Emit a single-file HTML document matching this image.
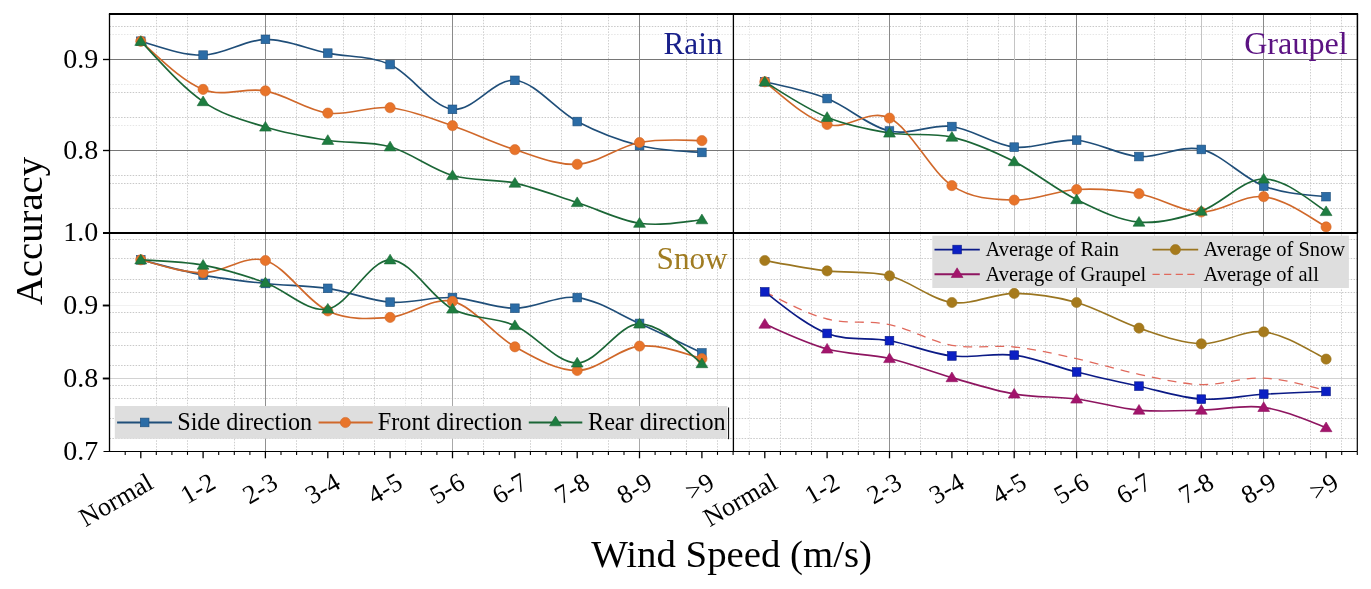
<!DOCTYPE html>
<html lang="en"><head><meta charset="utf-8"><title>Accuracy vs Wind Speed</title>
<style>html,body{margin:0;padding:0;background:#fff}body{width:1371px;height:589px;overflow:hidden}</style></head>
<body>
<svg width="1371" height="589" viewBox="0 0 1371 589" style="display:block;font-family:'Liberation Serif',serif;will-change:transform">
<rect width="1371" height="589" fill="#fff"/>
<g stroke-width="1" stroke-dasharray="1.5 1.4" fill="none"><line x1="156.5" y1="14.0" x2="156.5" y2="451.5" stroke="#cecece"/><line x1="187.5" y1="14.0" x2="187.5" y2="451.5" stroke="#cecece"/><line x1="234.5" y1="233.0" x2="234.5" y2="451.5" stroke="#cecece"/><line x1="296.5" y1="14.0" x2="296.5" y2="451.5" stroke="#cecece"/><line x1="343.5" y1="14.0" x2="343.5" y2="451.5" stroke="#cecece"/><line x1="374.5" y1="14.0" x2="374.5" y2="451.5" stroke="#cecece"/><line x1="421.5" y1="14.0" x2="421.5" y2="451.5" stroke="#cecece"/><line x1="483.5" y1="14.0" x2="483.5" y2="451.5" stroke="#cecece"/><line x1="530.5" y1="14.0" x2="530.5" y2="451.5" stroke="#cecece"/><line x1="561.5" y1="14.0" x2="561.5" y2="451.5" stroke="#cecece"/><line x1="608.5" y1="14.0" x2="608.5" y2="451.5" stroke="#cecece"/><line x1="686.5" y1="14.0" x2="686.5" y2="451.5" stroke="#cecece"/><line x1="717.5" y1="14.0" x2="717.5" y2="451.5" stroke="#cecece"/><line x1="405.5" y1="14.0" x2="405.5" y2="451.5" stroke="#e6e6e6"/><line x1="780.5" y1="14.0" x2="780.5" y2="451.5" stroke="#cecece"/><line x1="811.5" y1="14.0" x2="811.5" y2="451.5" stroke="#cecece"/><line x1="858.5" y1="14.0" x2="858.5" y2="451.5" stroke="#cecece"/><line x1="920.5" y1="14.0" x2="920.5" y2="451.5" stroke="#cecece"/><line x1="967.5" y1="14.0" x2="967.5" y2="451.5" stroke="#cecece"/><line x1="998.5" y1="14.0" x2="998.5" y2="451.5" stroke="#cecece"/><line x1="1045.5" y1="14.0" x2="1045.5" y2="451.5" stroke="#cecece"/><line x1="1107.5" y1="14.0" x2="1107.5" y2="451.5" stroke="#cecece"/><line x1="1154.5" y1="14.0" x2="1154.5" y2="451.5" stroke="#cecece"/><line x1="1185.5" y1="14.0" x2="1185.5" y2="451.5" stroke="#cecece"/><line x1="1232.5" y1="14.0" x2="1232.5" y2="451.5" stroke="#cecece"/><line x1="1310.5" y1="14.0" x2="1310.5" y2="451.5" stroke="#cecece"/><line x1="1341.5" y1="14.0" x2="1341.5" y2="451.5" stroke="#cecece"/><line x1="749.5" y1="14.0" x2="749.5" y2="451.5" stroke="#e6e6e6"/><line x1="1029.5" y1="14.0" x2="1029.5" y2="451.5" stroke="#e6e6e6"/><line x1="109.5" y1="26.5" x2="1357.4" y2="26.5" stroke="#c9c9c9"/><line x1="109.5" y1="92.5" x2="1357.4" y2="92.5" stroke="#c9c9c9"/><line x1="109.5" y1="117.5" x2="1357.4" y2="117.5" stroke="#c9c9c9"/><line x1="109.5" y1="175.5" x2="1357.4" y2="175.5" stroke="#c9c9c9"/><line x1="109.5" y1="183.5" x2="1357.4" y2="183.5" stroke="#c9c9c9"/><line x1="109.5" y1="208.5" x2="1357.4" y2="208.5" stroke="#c9c9c9"/><line x1="109.5" y1="239.5" x2="1357.4" y2="239.5" stroke="#c9c9c9"/><line x1="109.5" y1="258.5" x2="1357.4" y2="258.5" stroke="#c9c9c9"/><line x1="109.5" y1="279.5" x2="1357.4" y2="279.5" stroke="#c9c9c9"/><line x1="109.5" y1="292.5" x2="1357.4" y2="292.5" stroke="#c9c9c9"/><line x1="109.5" y1="312.5" x2="1357.4" y2="312.5" stroke="#c9c9c9"/><line x1="109.5" y1="332.5" x2="1357.4" y2="332.5" stroke="#c9c9c9"/><line x1="109.5" y1="345.5" x2="1357.4" y2="345.5" stroke="#c9c9c9"/><line x1="109.5" y1="365.5" x2="1357.4" y2="365.5" stroke="#c9c9c9"/><line x1="109.5" y1="385.5" x2="1357.4" y2="385.5" stroke="#c9c9c9"/><line x1="109.5" y1="398.5" x2="1357.4" y2="398.5" stroke="#c9c9c9"/><line x1="109.5" y1="418.5" x2="1357.4" y2="418.5" stroke="#c9c9c9"/><line x1="109.5" y1="438.5" x2="1357.4" y2="438.5" stroke="#c9c9c9"/><line x1="109.5" y1="34.5" x2="1357.4" y2="34.5" stroke="#e6e6e6"/><line x1="109.5" y1="84.5" x2="1357.4" y2="84.5" stroke="#e6e6e6"/><line x1="109.5" y1="125.5" x2="1357.4" y2="125.5" stroke="#e6e6e6"/></g>
<g stroke-width="1" fill="none"><line x1="109.5" y1="59.5" x2="1357.4" y2="59.5" stroke="#767676"/><line x1="109.5" y1="150.5" x2="1357.4" y2="150.5" stroke="#767676"/><line x1="109.5" y1="305.5" x2="1357.4" y2="305.5" stroke="#f1f1f1"/><line x1="109.5" y1="378.5" x2="1357.4" y2="378.5" stroke="#d2d2d2"/><line x1="265.5" y1="14.0" x2="265.5" y2="233.0" stroke="#8a8a8a"/><line x1="265.5" y1="233.0" x2="265.5" y2="451.5" stroke="#909090"/><line x1="452.5" y1="14.0" x2="452.5" y2="233.0" stroke="#8a8a8a"/><line x1="452.5" y1="233.0" x2="452.5" y2="451.5" stroke="#a8a8a8"/><line x1="639.5" y1="14.0" x2="639.5" y2="233.0" stroke="#8a8a8a"/><line x1="639.5" y1="233.0" x2="639.5" y2="451.5" stroke="#a8a8a8"/><line x1="889.5" y1="14.0" x2="889.5" y2="233.0" stroke="#8a8a8a"/><line x1="889.5" y1="233.0" x2="889.5" y2="451.5" stroke="#909090"/><line x1="1076.5" y1="14.0" x2="1076.5" y2="233.0" stroke="#8a8a8a"/><line x1="1076.5" y1="233.0" x2="1076.5" y2="451.5" stroke="#a8a8a8"/><line x1="1263.5" y1="14.0" x2="1263.5" y2="233.0" stroke="#8a8a8a"/><line x1="1263.5" y1="233.0" x2="1263.5" y2="451.5" stroke="#a8a8a8"/><line x1="1014.5" y1="14.0" x2="1014.5" y2="451.5" stroke="#c4c4c4"/><line x1="1201.5" y1="14.0" x2="1201.5" y2="451.5" stroke="#c4c4c4"/></g>
<path d="M140.8 41.3 C161.5 47.5 182.3 55.4 203.1 55.1 C223.9 54.8 244.7 39.7 265.4 39.4 C286.2 39.1 307.0 48.9 327.8 53.1 C348.6 57.3 369.4 55.2 390.1 64.6 C410.9 74.0 431.7 106.7 452.5 109.3 C473.3 111.9 494.1 78.3 514.9 80.3 C535.6 82.3 556.4 110.6 577.2 121.5 C598.0 132.4 618.8 140.3 639.5 145.5 C660.3 150.7 681.1 151.1 701.9 152.4" fill="none" stroke="#1F4E79" stroke-width="1.65"/><rect x="136.4" y="36.9" width="8.7" height="8.7" fill="#2B6CA6" stroke="#1F4E79" stroke-width="0.6"/><rect x="198.8" y="50.8" width="8.7" height="8.7" fill="#2B6CA6" stroke="#1F4E79" stroke-width="0.6"/><rect x="261.1" y="35.0" width="8.7" height="8.7" fill="#2B6CA6" stroke="#1F4E79" stroke-width="0.6"/><rect x="323.4" y="48.8" width="8.7" height="8.7" fill="#2B6CA6" stroke="#1F4E79" stroke-width="0.6"/><rect x="385.8" y="60.2" width="8.7" height="8.7" fill="#2B6CA6" stroke="#1F4E79" stroke-width="0.6"/><rect x="448.1" y="105.0" width="8.7" height="8.7" fill="#2B6CA6" stroke="#1F4E79" stroke-width="0.6"/><rect x="510.5" y="76.0" width="8.7" height="8.7" fill="#2B6CA6" stroke="#1F4E79" stroke-width="0.6"/><rect x="572.9" y="117.2" width="8.7" height="8.7" fill="#2B6CA6" stroke="#1F4E79" stroke-width="0.6"/><rect x="635.2" y="141.2" width="8.7" height="8.7" fill="#2B6CA6" stroke="#1F4E79" stroke-width="0.6"/><rect x="697.5" y="148.1" width="8.7" height="8.7" fill="#2B6CA6" stroke="#1F4E79" stroke-width="0.6"/>
<path d="M140.8 41.3 C161.5 59.9 182.3 81.1 203.1 89.4 C223.9 97.7 244.7 87.0 265.4 90.9 C286.2 94.9 307.0 110.3 327.8 113.1 C348.6 115.9 369.4 105.6 390.1 107.7 C410.9 109.8 431.7 118.7 452.5 125.7 C473.3 132.7 494.1 143.3 514.9 149.7 C535.6 156.1 556.4 165.5 577.2 164.3 C598.0 163.1 618.8 146.4 639.5 142.5 C660.3 138.6 681.1 140.1 701.9 140.6" fill="none" stroke="#D0682A" stroke-width="1.65"/><circle cx="140.8" cy="41.3" r="5.1" fill="#E8742A" stroke="#D0682A" stroke-width="0.6"/><circle cx="203.1" cy="89.4" r="5.1" fill="#E8742A" stroke="#D0682A" stroke-width="0.6"/><circle cx="265.4" cy="90.9" r="5.1" fill="#E8742A" stroke="#D0682A" stroke-width="0.6"/><circle cx="327.8" cy="113.1" r="5.1" fill="#E8742A" stroke="#D0682A" stroke-width="0.6"/><circle cx="390.1" cy="107.7" r="5.1" fill="#E8742A" stroke="#D0682A" stroke-width="0.6"/><circle cx="452.5" cy="125.7" r="5.1" fill="#E8742A" stroke="#D0682A" stroke-width="0.6"/><circle cx="514.9" cy="149.7" r="5.1" fill="#E8742A" stroke="#D0682A" stroke-width="0.6"/><circle cx="577.2" cy="164.3" r="5.1" fill="#E8742A" stroke="#D0682A" stroke-width="0.6"/><circle cx="639.5" cy="142.5" r="5.1" fill="#E8742A" stroke="#D0682A" stroke-width="0.6"/><circle cx="701.9" cy="140.6" r="5.1" fill="#E8742A" stroke="#D0682A" stroke-width="0.6"/>
<path d="M140.8 41.3 C161.5 63.3 182.3 87.3 203.1 101.6 C223.9 115.9 244.7 120.5 265.4 127.0 C286.2 133.4 307.0 137.0 327.8 140.3 C348.6 143.6 369.4 140.9 390.1 146.8 C410.9 152.7 431.7 169.4 452.5 175.5 C473.3 181.6 494.1 178.6 514.9 183.1 C535.6 187.6 556.4 195.8 577.2 202.5 C598.0 209.2 618.8 220.3 639.5 223.2 C660.3 226.1 681.1 222.2 701.9 219.7" fill="none" stroke="#1B6636" stroke-width="1.65"/><path d="M140.8 35.7 L146.7 45.4 L134.8 45.4 Z" fill="#1E7D40" stroke="#1B6636" stroke-width="0.6"/><path d="M203.1 96.0 L209.0 105.7 L197.2 105.7 Z" fill="#1E7D40" stroke="#1B6636" stroke-width="0.6"/><path d="M265.4 121.4 L271.3 131.1 L259.6 131.1 Z" fill="#1E7D40" stroke="#1B6636" stroke-width="0.6"/><path d="M327.8 134.7 L333.7 144.4 L321.9 144.4 Z" fill="#1E7D40" stroke="#1B6636" stroke-width="0.6"/><path d="M390.1 141.2 L396.0 150.9 L384.2 150.9 Z" fill="#1E7D40" stroke="#1B6636" stroke-width="0.6"/><path d="M452.5 169.9 L458.4 179.6 L446.6 179.6 Z" fill="#1E7D40" stroke="#1B6636" stroke-width="0.6"/><path d="M514.9 177.5 L520.8 187.2 L509.0 187.2 Z" fill="#1E7D40" stroke="#1B6636" stroke-width="0.6"/><path d="M577.2 196.9 L583.1 206.6 L571.3 206.6 Z" fill="#1E7D40" stroke="#1B6636" stroke-width="0.6"/><path d="M639.5 217.6 L645.4 227.3 L633.6 227.3 Z" fill="#1E7D40" stroke="#1B6636" stroke-width="0.6"/><path d="M701.9 214.1 L707.8 223.8 L696.0 223.8 Z" fill="#1E7D40" stroke="#1B6636" stroke-width="0.6"/>
<path d="M764.8 81.8 C785.5 86.5 806.3 90.4 827.1 98.6 C847.9 106.8 868.7 126.3 889.5 131.0 C910.3 135.7 931.1 123.8 951.9 126.5 C972.7 129.2 993.5 144.8 1014.2 147.1 C1035.0 149.4 1055.8 138.6 1076.6 140.2 C1097.4 141.8 1118.2 155.1 1139.0 156.6 C1159.8 158.1 1180.6 144.5 1201.3 149.4 C1222.1 154.3 1242.9 178.1 1263.7 186.0 C1284.5 193.9 1305.3 194.6 1326.1 196.7" fill="none" stroke="#1F4E79" stroke-width="1.65"/><rect x="760.4" y="77.5" width="8.7" height="8.7" fill="#2B6CA6" stroke="#1F4E79" stroke-width="0.6"/><rect x="822.8" y="94.2" width="8.7" height="8.7" fill="#2B6CA6" stroke="#1F4E79" stroke-width="0.6"/><rect x="885.1" y="126.7" width="8.7" height="8.7" fill="#2B6CA6" stroke="#1F4E79" stroke-width="0.6"/><rect x="947.5" y="122.2" width="8.7" height="8.7" fill="#2B6CA6" stroke="#1F4E79" stroke-width="0.6"/><rect x="1009.9" y="142.8" width="8.7" height="8.7" fill="#2B6CA6" stroke="#1F4E79" stroke-width="0.6"/><rect x="1072.3" y="135.8" width="8.7" height="8.7" fill="#2B6CA6" stroke="#1F4E79" stroke-width="0.6"/><rect x="1134.6" y="152.2" width="8.7" height="8.7" fill="#2B6CA6" stroke="#1F4E79" stroke-width="0.6"/><rect x="1197.0" y="145.1" width="8.7" height="8.7" fill="#2B6CA6" stroke="#1F4E79" stroke-width="0.6"/><rect x="1259.4" y="181.7" width="8.7" height="8.7" fill="#2B6CA6" stroke="#1F4E79" stroke-width="0.6"/><rect x="1321.7" y="192.3" width="8.7" height="8.7" fill="#2B6CA6" stroke="#1F4E79" stroke-width="0.6"/>
<path d="M764.8 81.8 C785.5 98.8 806.3 118.5 827.1 124.5 C847.9 130.6 868.7 107.9 889.5 118.1 C910.3 128.3 931.1 171.9 951.9 185.6 C972.7 199.3 993.5 199.4 1014.2 200.1 C1035.0 200.8 1055.8 190.6 1076.6 189.5 C1097.4 188.4 1118.2 189.9 1139.0 193.7 C1159.8 197.4 1180.6 211.5 1201.3 212.0 C1222.1 212.5 1242.9 194.2 1263.7 196.7 C1284.5 199.2 1305.3 214.3 1326.1 226.9" fill="none" stroke="#D0682A" stroke-width="1.65"/><circle cx="764.8" cy="81.8" r="5.1" fill="#E8742A" stroke="#D0682A" stroke-width="0.6"/><circle cx="827.1" cy="124.5" r="5.1" fill="#E8742A" stroke="#D0682A" stroke-width="0.6"/><circle cx="889.5" cy="118.1" r="5.1" fill="#E8742A" stroke="#D0682A" stroke-width="0.6"/><circle cx="951.9" cy="185.6" r="5.1" fill="#E8742A" stroke="#D0682A" stroke-width="0.6"/><circle cx="1014.2" cy="200.1" r="5.1" fill="#E8742A" stroke="#D0682A" stroke-width="0.6"/><circle cx="1076.6" cy="189.5" r="5.1" fill="#E8742A" stroke="#D0682A" stroke-width="0.6"/><circle cx="1139.0" cy="193.7" r="5.1" fill="#E8742A" stroke="#D0682A" stroke-width="0.6"/><circle cx="1201.3" cy="212.0" r="5.1" fill="#E8742A" stroke="#D0682A" stroke-width="0.6"/><circle cx="1263.7" cy="196.7" r="5.1" fill="#E8742A" stroke="#D0682A" stroke-width="0.6"/><circle cx="1326.1" cy="226.9" r="5.1" fill="#E8742A" stroke="#D0682A" stroke-width="0.6"/>
<path d="M764.8 81.8 C785.5 94.7 806.3 108.8 827.1 117.3 C847.9 125.8 868.7 129.7 889.5 133.0 C910.3 136.3 931.1 132.3 951.9 137.1 C972.7 141.9 993.5 151.2 1014.2 161.6 C1035.0 172.0 1055.8 189.5 1076.6 199.6 C1097.4 209.7 1118.2 220.2 1139.0 222.1 C1159.8 224.0 1180.6 218.3 1201.3 211.1 C1222.1 203.9 1242.9 178.9 1263.7 179.0 C1284.5 179.1 1305.3 197.1 1326.1 211.5" fill="none" stroke="#1B6636" stroke-width="1.65"/><path d="M764.8 76.2 L770.7 85.9 L758.9 85.9 Z" fill="#1E7D40" stroke="#1B6636" stroke-width="0.6"/><path d="M827.1 111.7 L833.0 121.4 L821.2 121.4 Z" fill="#1E7D40" stroke="#1B6636" stroke-width="0.6"/><path d="M889.5 127.4 L895.4 137.1 L883.6 137.1 Z" fill="#1E7D40" stroke="#1B6636" stroke-width="0.6"/><path d="M951.9 131.5 L957.8 141.2 L946.0 141.2 Z" fill="#1E7D40" stroke="#1B6636" stroke-width="0.6"/><path d="M1014.2 156.0 L1020.1 165.7 L1008.3 165.7 Z" fill="#1E7D40" stroke="#1B6636" stroke-width="0.6"/><path d="M1076.6 194.0 L1082.5 203.7 L1070.7 203.7 Z" fill="#1E7D40" stroke="#1B6636" stroke-width="0.6"/><path d="M1139.0 216.5 L1144.9 226.2 L1133.1 226.2 Z" fill="#1E7D40" stroke="#1B6636" stroke-width="0.6"/><path d="M1201.3 205.5 L1207.2 215.2 L1195.4 215.2 Z" fill="#1E7D40" stroke="#1B6636" stroke-width="0.6"/><path d="M1263.7 173.4 L1269.6 183.1 L1257.8 183.1 Z" fill="#1E7D40" stroke="#1B6636" stroke-width="0.6"/><path d="M1326.1 205.9 L1332.0 215.6 L1320.2 215.6 Z" fill="#1E7D40" stroke="#1B6636" stroke-width="0.6"/>
<path d="M140.8 259.8 C161.5 265.3 182.3 271.2 203.1 275.1 C223.9 279.1 244.7 281.3 265.4 283.5 C286.2 285.7 307.0 285.3 327.8 288.4 C348.6 291.5 369.4 300.7 390.1 302.2 C410.9 303.7 431.7 296.6 452.5 297.6 C473.3 298.6 494.1 308.3 514.9 308.3 C535.6 308.3 556.4 295.1 577.2 297.6 C598.0 300.1 618.8 314.3 639.5 323.5 C660.3 332.7 681.1 343.0 701.9 353.0" fill="none" stroke="#1F4E79" stroke-width="1.65"/><rect x="136.4" y="255.5" width="8.7" height="8.7" fill="#2B6CA6" stroke="#1F4E79" stroke-width="0.6"/><rect x="198.8" y="270.8" width="8.7" height="8.7" fill="#2B6CA6" stroke="#1F4E79" stroke-width="0.6"/><rect x="261.1" y="279.1" width="8.7" height="8.7" fill="#2B6CA6" stroke="#1F4E79" stroke-width="0.6"/><rect x="323.4" y="284.0" width="8.7" height="8.7" fill="#2B6CA6" stroke="#1F4E79" stroke-width="0.6"/><rect x="385.8" y="297.8" width="8.7" height="8.7" fill="#2B6CA6" stroke="#1F4E79" stroke-width="0.6"/><rect x="448.1" y="293.2" width="8.7" height="8.7" fill="#2B6CA6" stroke="#1F4E79" stroke-width="0.6"/><rect x="510.5" y="303.9" width="8.7" height="8.7" fill="#2B6CA6" stroke="#1F4E79" stroke-width="0.6"/><rect x="572.9" y="293.2" width="8.7" height="8.7" fill="#2B6CA6" stroke="#1F4E79" stroke-width="0.6"/><rect x="635.2" y="319.1" width="8.7" height="8.7" fill="#2B6CA6" stroke="#1F4E79" stroke-width="0.6"/><rect x="697.5" y="348.6" width="8.7" height="8.7" fill="#2B6CA6" stroke="#1F4E79" stroke-width="0.6"/>
<path d="M140.8 259.8 C161.5 265.5 182.3 272.7 203.1 272.8 C223.9 272.9 244.7 254.2 265.4 260.5 C286.2 266.9 307.0 301.4 327.8 310.9 C348.6 320.4 369.4 319.0 390.1 317.4 C410.9 315.8 431.7 296.5 452.5 301.4 C473.3 306.3 494.1 335.3 514.9 346.8 C535.6 358.3 556.4 370.6 577.2 370.5 C598.0 370.4 618.8 348.1 639.5 346.1 C660.3 344.1 681.1 352.4 701.9 358.7" fill="none" stroke="#D0682A" stroke-width="1.65"/><circle cx="140.8" cy="259.8" r="5.1" fill="#E8742A" stroke="#D0682A" stroke-width="0.6"/><circle cx="203.1" cy="272.8" r="5.1" fill="#E8742A" stroke="#D0682A" stroke-width="0.6"/><circle cx="265.4" cy="260.5" r="5.1" fill="#E8742A" stroke="#D0682A" stroke-width="0.6"/><circle cx="327.8" cy="310.9" r="5.1" fill="#E8742A" stroke="#D0682A" stroke-width="0.6"/><circle cx="390.1" cy="317.4" r="5.1" fill="#E8742A" stroke="#D0682A" stroke-width="0.6"/><circle cx="452.5" cy="301.4" r="5.1" fill="#E8742A" stroke="#D0682A" stroke-width="0.6"/><circle cx="514.9" cy="346.8" r="5.1" fill="#E8742A" stroke="#D0682A" stroke-width="0.6"/><circle cx="577.2" cy="370.5" r="5.1" fill="#E8742A" stroke="#D0682A" stroke-width="0.6"/><circle cx="639.5" cy="346.1" r="5.1" fill="#E8742A" stroke="#D0682A" stroke-width="0.6"/><circle cx="701.9" cy="358.7" r="5.1" fill="#E8742A" stroke="#D0682A" stroke-width="0.6"/>
<path d="M140.8 259.8 C161.5 260.9 182.3 261.3 203.1 265.1 C223.9 268.9 244.7 275.4 265.4 282.7 C286.2 290.0 307.0 312.8 327.8 309.0 C348.6 305.2 369.4 259.8 390.1 259.8 C410.9 259.8 431.7 298.1 452.5 309.0 C473.3 319.9 494.1 316.5 514.9 325.5 C535.6 334.5 556.4 363.2 577.2 362.9 C598.0 362.6 618.8 323.8 639.5 323.9 C660.3 324.0 681.1 346.0 701.9 363.6" fill="none" stroke="#1B6636" stroke-width="1.65"/><path d="M140.8 254.2 L146.7 263.9 L134.8 263.9 Z" fill="#1E7D40" stroke="#1B6636" stroke-width="0.6"/><path d="M203.1 259.5 L209.0 269.2 L197.2 269.2 Z" fill="#1E7D40" stroke="#1B6636" stroke-width="0.6"/><path d="M265.4 277.1 L271.3 286.8 L259.6 286.8 Z" fill="#1E7D40" stroke="#1B6636" stroke-width="0.6"/><path d="M327.8 303.4 L333.7 313.1 L321.9 313.1 Z" fill="#1E7D40" stroke="#1B6636" stroke-width="0.6"/><path d="M390.1 254.2 L396.0 263.9 L384.2 263.9 Z" fill="#1E7D40" stroke="#1B6636" stroke-width="0.6"/><path d="M452.5 303.4 L458.4 313.1 L446.6 313.1 Z" fill="#1E7D40" stroke="#1B6636" stroke-width="0.6"/><path d="M514.9 319.9 L520.8 329.6 L509.0 329.6 Z" fill="#1E7D40" stroke="#1B6636" stroke-width="0.6"/><path d="M577.2 357.3 L583.1 367.0 L571.3 367.0 Z" fill="#1E7D40" stroke="#1B6636" stroke-width="0.6"/><path d="M639.5 318.3 L645.4 328.0 L633.6 328.0 Z" fill="#1E7D40" stroke="#1B6636" stroke-width="0.6"/><path d="M701.9 358.0 L707.8 367.7 L696.0 367.7 Z" fill="#1E7D40" stroke="#1B6636" stroke-width="0.6"/>
<path d="M764.8 291.9 C785.5 302.1 806.3 313.6 827.1 319.0 C847.9 324.4 868.7 320.2 889.5 324.6 C910.3 329.0 931.1 341.6 951.9 345.3 C972.7 349.0 993.5 344.8 1014.2 347.0 C1035.0 349.2 1055.8 354.1 1076.6 358.7 C1097.4 363.2 1118.2 370.0 1139.0 374.3 C1159.8 378.6 1180.6 384.0 1201.3 384.6 C1222.1 385.2 1242.9 377.1 1263.7 378.1 C1284.5 379.1 1305.3 385.3 1326.1 390.4" fill="none" stroke="#E0695C" stroke-width="1.3" stroke-dasharray="9 7"/>
<path d="M764.8 260.5 C785.5 264.3 806.3 268.3 827.1 270.9 C847.9 273.4 868.7 270.5 889.5 275.8 C910.3 281.1 931.1 299.6 951.9 302.5 C972.7 305.4 993.5 293.4 1014.2 293.4 C1035.0 293.4 1055.8 296.7 1076.6 302.5 C1097.4 308.3 1118.2 321.2 1139.0 328.1 C1159.8 335.0 1180.6 343.2 1201.3 343.8 C1222.1 344.4 1242.9 329.3 1263.7 331.9 C1284.5 334.4 1305.3 347.9 1326.1 359.1" fill="none" stroke="#9A7520" stroke-width="1.65"/><circle cx="764.8" cy="260.5" r="5.1" fill="#A67A1C" stroke="#9A7520" stroke-width="0.6"/><circle cx="827.1" cy="270.9" r="5.1" fill="#A67A1C" stroke="#9A7520" stroke-width="0.6"/><circle cx="889.5" cy="275.8" r="5.1" fill="#A67A1C" stroke="#9A7520" stroke-width="0.6"/><circle cx="951.9" cy="302.5" r="5.1" fill="#A67A1C" stroke="#9A7520" stroke-width="0.6"/><circle cx="1014.2" cy="293.4" r="5.1" fill="#A67A1C" stroke="#9A7520" stroke-width="0.6"/><circle cx="1076.6" cy="302.5" r="5.1" fill="#A67A1C" stroke="#9A7520" stroke-width="0.6"/><circle cx="1139.0" cy="328.1" r="5.1" fill="#A67A1C" stroke="#9A7520" stroke-width="0.6"/><circle cx="1201.3" cy="343.8" r="5.1" fill="#A67A1C" stroke="#9A7520" stroke-width="0.6"/><circle cx="1263.7" cy="331.9" r="5.1" fill="#A67A1C" stroke="#9A7520" stroke-width="0.6"/><circle cx="1326.1" cy="359.1" r="5.1" fill="#A67A1C" stroke="#9A7520" stroke-width="0.6"/>
<path d="M764.8 291.9 C785.5 307.7 806.3 325.4 827.1 333.5 C847.9 341.6 868.7 336.9 889.5 340.7 C910.3 344.4 931.1 353.6 951.9 356.0 C972.7 358.4 993.5 352.5 1014.2 355.2 C1035.0 357.9 1055.8 366.8 1076.6 372.0 C1097.4 377.2 1118.2 381.7 1139.0 386.2 C1159.8 390.7 1180.6 397.8 1201.3 399.1 C1222.1 400.4 1242.9 395.5 1263.7 394.2 C1284.5 392.9 1305.3 392.3 1326.1 391.5" fill="none" stroke="#0B1A86" stroke-width="1.65"/><rect x="760.4" y="287.5" width="8.7" height="8.7" fill="#0B1FC4" stroke="#0B1A86" stroke-width="0.6"/><rect x="822.8" y="329.1" width="8.7" height="8.7" fill="#0B1FC4" stroke="#0B1A86" stroke-width="0.6"/><rect x="885.1" y="336.3" width="8.7" height="8.7" fill="#0B1FC4" stroke="#0B1A86" stroke-width="0.6"/><rect x="947.5" y="351.6" width="8.7" height="8.7" fill="#0B1FC4" stroke="#0B1A86" stroke-width="0.6"/><rect x="1009.9" y="350.8" width="8.7" height="8.7" fill="#0B1FC4" stroke="#0B1A86" stroke-width="0.6"/><rect x="1072.3" y="367.6" width="8.7" height="8.7" fill="#0B1FC4" stroke="#0B1A86" stroke-width="0.6"/><rect x="1134.6" y="381.8" width="8.7" height="8.7" fill="#0B1FC4" stroke="#0B1A86" stroke-width="0.6"/><rect x="1197.0" y="394.8" width="8.7" height="8.7" fill="#0B1FC4" stroke="#0B1A86" stroke-width="0.6"/><rect x="1259.4" y="389.8" width="8.7" height="8.7" fill="#0B1FC4" stroke="#0B1A86" stroke-width="0.6"/><rect x="1321.7" y="387.1" width="8.7" height="8.7" fill="#0B1FC4" stroke="#0B1A86" stroke-width="0.6"/>
<path d="M764.8 324.1 C785.5 333.3 806.3 343.3 827.1 349.0 C847.9 354.7 868.7 353.7 889.5 358.5 C910.3 363.3 931.1 371.7 951.9 377.6 C972.7 383.5 993.5 390.4 1014.2 394.0 C1035.0 397.6 1055.8 396.3 1076.6 399.0 C1097.4 401.7 1118.2 408.2 1139.0 410.1 C1159.8 412.0 1180.6 410.6 1201.3 410.1 C1222.1 409.7 1242.9 404.5 1263.7 407.4 C1284.5 410.3 1305.3 419.6 1326.1 427.6" fill="none" stroke="#8E1560" stroke-width="1.65"/><path d="M764.8 318.5 L770.7 328.2 L758.9 328.2 Z" fill="#A3146C" stroke="#8E1560" stroke-width="0.6"/><path d="M827.1 343.4 L833.0 353.1 L821.2 353.1 Z" fill="#A3146C" stroke="#8E1560" stroke-width="0.6"/><path d="M889.5 352.9 L895.4 362.6 L883.6 362.6 Z" fill="#A3146C" stroke="#8E1560" stroke-width="0.6"/><path d="M951.9 372.0 L957.8 381.7 L946.0 381.7 Z" fill="#A3146C" stroke="#8E1560" stroke-width="0.6"/><path d="M1014.2 388.4 L1020.1 398.1 L1008.3 398.1 Z" fill="#A3146C" stroke="#8E1560" stroke-width="0.6"/><path d="M1076.6 393.4 L1082.5 403.1 L1070.7 403.1 Z" fill="#A3146C" stroke="#8E1560" stroke-width="0.6"/><path d="M1139.0 404.5 L1144.9 414.2 L1133.1 414.2 Z" fill="#A3146C" stroke="#8E1560" stroke-width="0.6"/><path d="M1201.3 404.5 L1207.2 414.2 L1195.4 414.2 Z" fill="#A3146C" stroke="#8E1560" stroke-width="0.6"/><path d="M1263.7 401.8 L1269.6 411.5 L1257.8 411.5 Z" fill="#A3146C" stroke="#8E1560" stroke-width="0.6"/><path d="M1326.1 422.0 L1332.0 431.7 L1320.2 431.7 Z" fill="#A3146C" stroke="#8E1560" stroke-width="0.6"/>
<rect x="114.8" y="406" width="612.6" height="32.7" fill="#dedede"/>
<line x1="728.6" y1="407.5" x2="728.6" y2="439.2" stroke="#000" stroke-width="1"/>
<line x1="117.1" y1="422.5" x2="172.0" y2="422.5" stroke="#1F4E79" stroke-width="1.9"/><rect x="140.3" y="418.1" width="8.7" height="8.7" fill="#2B6CA6" stroke="#1F4E79" stroke-width="0.6"/>
<line x1="318.6" y1="422.5" x2="372.7" y2="422.5" stroke="#D0682A" stroke-width="1.9"/><circle cx="345.4" cy="422.5" r="5.1" fill="#E8742A" stroke="#D0682A" stroke-width="0.6"/>
<line x1="528.8" y1="422.5" x2="582.3" y2="422.5" stroke="#1B6636" stroke-width="1.9"/><path d="M555.5 416.1 L561.4 425.8 L549.6 425.8 Z" fill="#1E7D40" stroke="#1B6636" stroke-width="0.6"/>
<g font-size="24.2px" fill="#000"><text x="177.2" y="430">Side direction</text><text x="377.8" y="430">Front direction</text><text x="588" y="430">Rear direction</text></g>
<rect x="932.3" y="235.7" width="416.6" height="52.3" fill="#dedede"/>
<line x1="934.5" y1="249.6" x2="979.8" y2="249.6" stroke="#0B1A86" stroke-width="1.9"/><rect x="952.8" y="245.2" width="8.7" height="8.7" fill="#0B1FC4" stroke="#0B1A86" stroke-width="0.6"/>
<line x1="934.5" y1="274.2" x2="979.8" y2="274.2" stroke="#8E1560" stroke-width="1.9"/><path d="M957.1 267.8 L963.0 277.5 L951.2 277.5 Z" fill="#A3146C" stroke="#8E1560" stroke-width="0.6"/>
<line x1="1152.5" y1="249.6" x2="1198.2" y2="249.6" stroke="#9A7520" stroke-width="1.9"/><circle cx="1175.4" cy="249.6" r="5.1" fill="#A67A1C" stroke="#9A7520" stroke-width="0.6"/>
<line x1="1152.5" y1="274.3" x2="1196" y2="274.3" stroke="#E0695C" stroke-width="1.2" stroke-dasharray="7.2 4.4"/>
<g font-size="20.45px" fill="#000"><text x="985.5" y="256.3">Average of Rain</text><text x="985.5" y="280.6">Average of Graupel</text><text x="1203.5" y="256.3">Average of Snow</text><text x="1203.5" y="280.6">Average of all</text></g>
<g stroke="#000" fill="none">
<line x1="108.9" y1="14.1" x2="1358.1" y2="14.1" stroke-width="2"/>
<line x1="109.5" y1="14.0" x2="109.5" y2="451.5" stroke-width="1.3"/>
<line x1="1357.4" y1="14.0" x2="1357.4" y2="233.0" stroke-width="1.5"/>
<line x1="1357.3" y1="233.0" x2="1357.3" y2="451.5" stroke-width="1.2"/>
<line x1="733.4" y1="14.0" x2="733.4" y2="451.5" stroke-width="1.3"/>
<line x1="103.0" y1="233.0" x2="1357.4" y2="233.0" stroke-width="2"/>
<line x1="103.5" y1="451.5" x2="1357.4" y2="451.5" stroke-width="1.1"/>
<line x1="103.0" y1="59.5" x2="109.5" y2="59.5" stroke-width="1.35"/>
<line x1="103.0" y1="150.5" x2="109.5" y2="150.5" stroke-width="1.35"/>
<line x1="102.8" y1="305.5" x2="109.5" y2="305.5" stroke-width="1.9"/>
<line x1="102.8" y1="378.5" x2="109.5" y2="378.5" stroke-width="1.9"/>
<line x1="125.2" y1="451.5" x2="125.2" y2="454.9" stroke-width="1.1"/>
<line x1="140.8" y1="451.5" x2="140.8" y2="458.3" stroke-width="1.3"/>
<line x1="156.3" y1="451.5" x2="156.3" y2="454.9" stroke-width="1.1"/>
<line x1="171.9" y1="451.5" x2="171.9" y2="454.9" stroke-width="1.1"/>
<line x1="187.5" y1="451.5" x2="187.5" y2="454.9" stroke-width="1.1"/>
<line x1="203.1" y1="451.5" x2="203.1" y2="458.3" stroke-width="1.3"/>
<line x1="218.7" y1="451.5" x2="218.7" y2="454.9" stroke-width="1.1"/>
<line x1="234.3" y1="451.5" x2="234.3" y2="454.9" stroke-width="1.1"/>
<line x1="249.9" y1="451.5" x2="249.9" y2="454.9" stroke-width="1.1"/>
<line x1="265.4" y1="451.5" x2="265.4" y2="458.3" stroke-width="1.3"/>
<line x1="281.0" y1="451.5" x2="281.0" y2="454.9" stroke-width="1.1"/>
<line x1="296.6" y1="451.5" x2="296.6" y2="454.9" stroke-width="1.1"/>
<line x1="312.2" y1="451.5" x2="312.2" y2="454.9" stroke-width="1.1"/>
<line x1="327.8" y1="451.5" x2="327.8" y2="458.3" stroke-width="1.3"/>
<line x1="343.4" y1="451.5" x2="343.4" y2="454.9" stroke-width="1.1"/>
<line x1="359.0" y1="451.5" x2="359.0" y2="454.9" stroke-width="1.1"/>
<line x1="374.6" y1="451.5" x2="374.6" y2="454.9" stroke-width="1.1"/>
<line x1="390.1" y1="451.5" x2="390.1" y2="458.3" stroke-width="1.3"/>
<line x1="405.7" y1="451.5" x2="405.7" y2="454.9" stroke-width="1.1"/>
<line x1="421.3" y1="451.5" x2="421.3" y2="454.9" stroke-width="1.1"/>
<line x1="436.9" y1="451.5" x2="436.9" y2="454.9" stroke-width="1.1"/>
<line x1="452.5" y1="451.5" x2="452.5" y2="458.3" stroke-width="1.3"/>
<line x1="468.1" y1="451.5" x2="468.1" y2="454.9" stroke-width="1.1"/>
<line x1="483.7" y1="451.5" x2="483.7" y2="454.9" stroke-width="1.1"/>
<line x1="499.3" y1="451.5" x2="499.3" y2="454.9" stroke-width="1.1"/>
<line x1="514.9" y1="451.5" x2="514.9" y2="458.3" stroke-width="1.3"/>
<line x1="530.4" y1="451.5" x2="530.4" y2="454.9" stroke-width="1.1"/>
<line x1="546.0" y1="451.5" x2="546.0" y2="454.9" stroke-width="1.1"/>
<line x1="561.6" y1="451.5" x2="561.6" y2="454.9" stroke-width="1.1"/>
<line x1="577.2" y1="451.5" x2="577.2" y2="458.3" stroke-width="1.3"/>
<line x1="592.8" y1="451.5" x2="592.8" y2="454.9" stroke-width="1.1"/>
<line x1="608.4" y1="451.5" x2="608.4" y2="454.9" stroke-width="1.1"/>
<line x1="624.0" y1="451.5" x2="624.0" y2="454.9" stroke-width="1.1"/>
<line x1="639.5" y1="451.5" x2="639.5" y2="458.3" stroke-width="1.3"/>
<line x1="655.1" y1="451.5" x2="655.1" y2="454.9" stroke-width="1.1"/>
<line x1="670.7" y1="451.5" x2="670.7" y2="454.9" stroke-width="1.1"/>
<line x1="686.3" y1="451.5" x2="686.3" y2="454.9" stroke-width="1.1"/>
<line x1="701.9" y1="451.5" x2="701.9" y2="458.3" stroke-width="1.3"/>
<line x1="717.5" y1="451.5" x2="717.5" y2="454.9" stroke-width="1.1"/>
<line x1="733.1" y1="451.5" x2="733.1" y2="454.9" stroke-width="1.1"/>
<line x1="749.2" y1="451.5" x2="749.2" y2="454.9" stroke-width="1.1"/>
<line x1="764.8" y1="451.5" x2="764.8" y2="458.3" stroke-width="1.3"/>
<line x1="780.4" y1="451.5" x2="780.4" y2="454.9" stroke-width="1.1"/>
<line x1="795.9" y1="451.5" x2="795.9" y2="454.9" stroke-width="1.1"/>
<line x1="811.5" y1="451.5" x2="811.5" y2="454.9" stroke-width="1.1"/>
<line x1="827.1" y1="451.5" x2="827.1" y2="458.3" stroke-width="1.3"/>
<line x1="842.7" y1="451.5" x2="842.7" y2="454.9" stroke-width="1.1"/>
<line x1="858.3" y1="451.5" x2="858.3" y2="454.9" stroke-width="1.1"/>
<line x1="873.9" y1="451.5" x2="873.9" y2="454.9" stroke-width="1.1"/>
<line x1="889.5" y1="451.5" x2="889.5" y2="458.3" stroke-width="1.3"/>
<line x1="905.1" y1="451.5" x2="905.1" y2="454.9" stroke-width="1.1"/>
<line x1="920.7" y1="451.5" x2="920.7" y2="454.9" stroke-width="1.1"/>
<line x1="936.3" y1="451.5" x2="936.3" y2="454.9" stroke-width="1.1"/>
<line x1="951.9" y1="451.5" x2="951.9" y2="458.3" stroke-width="1.3"/>
<line x1="967.5" y1="451.5" x2="967.5" y2="454.9" stroke-width="1.1"/>
<line x1="983.1" y1="451.5" x2="983.1" y2="454.9" stroke-width="1.1"/>
<line x1="998.6" y1="451.5" x2="998.6" y2="454.9" stroke-width="1.1"/>
<line x1="1014.2" y1="451.5" x2="1014.2" y2="458.3" stroke-width="1.3"/>
<line x1="1029.8" y1="451.5" x2="1029.8" y2="454.9" stroke-width="1.1"/>
<line x1="1045.4" y1="451.5" x2="1045.4" y2="454.9" stroke-width="1.1"/>
<line x1="1061.0" y1="451.5" x2="1061.0" y2="454.9" stroke-width="1.1"/>
<line x1="1076.6" y1="451.5" x2="1076.6" y2="458.3" stroke-width="1.3"/>
<line x1="1092.2" y1="451.5" x2="1092.2" y2="454.9" stroke-width="1.1"/>
<line x1="1107.8" y1="451.5" x2="1107.8" y2="454.9" stroke-width="1.1"/>
<line x1="1123.4" y1="451.5" x2="1123.4" y2="454.9" stroke-width="1.1"/>
<line x1="1139.0" y1="451.5" x2="1139.0" y2="458.3" stroke-width="1.3"/>
<line x1="1154.6" y1="451.5" x2="1154.6" y2="454.9" stroke-width="1.1"/>
<line x1="1170.2" y1="451.5" x2="1170.2" y2="454.9" stroke-width="1.1"/>
<line x1="1185.8" y1="451.5" x2="1185.8" y2="454.9" stroke-width="1.1"/>
<line x1="1201.3" y1="451.5" x2="1201.3" y2="458.3" stroke-width="1.3"/>
<line x1="1216.9" y1="451.5" x2="1216.9" y2="454.9" stroke-width="1.1"/>
<line x1="1232.5" y1="451.5" x2="1232.5" y2="454.9" stroke-width="1.1"/>
<line x1="1248.1" y1="451.5" x2="1248.1" y2="454.9" stroke-width="1.1"/>
<line x1="1263.7" y1="451.5" x2="1263.7" y2="458.3" stroke-width="1.3"/>
<line x1="1279.3" y1="451.5" x2="1279.3" y2="454.9" stroke-width="1.1"/>
<line x1="1294.9" y1="451.5" x2="1294.9" y2="454.9" stroke-width="1.1"/>
<line x1="1310.5" y1="451.5" x2="1310.5" y2="454.9" stroke-width="1.1"/>
<line x1="1326.1" y1="451.5" x2="1326.1" y2="458.3" stroke-width="1.3"/>
<line x1="1341.7" y1="451.5" x2="1341.7" y2="454.9" stroke-width="1.1"/>
<line x1="1357.3" y1="451.5" x2="1357.3" y2="454.9" stroke-width="1.1"/>
</g>
<g font-size="28px" fill="#000" text-anchor="end">
<text x="98.3" y="67.7">0.9</text>
<text x="98.3" y="158.7">0.8</text>
<text x="98.3" y="241.2">1.0</text>
<text x="98.3" y="313.7">0.9</text>
<text x="98.3" y="386.7">0.8</text>
<text x="98.3" y="459.7">0.7</text>
</g>
<g font-size="26.2px" fill="#000" text-anchor="end">
<text transform="translate(154.9 487.3) rotate(-30)">Normal</text>
<text transform="translate(217.3 487.3) rotate(-30)">1-2</text>
<text transform="translate(279.6 487.3) rotate(-30)">2-3</text>
<text transform="translate(342.0 487.3) rotate(-30)">3-4</text>
<text transform="translate(404.3 487.3) rotate(-30)">4-5</text>
<text transform="translate(466.7 487.3) rotate(-30)">5-6</text>
<text transform="translate(529.1 487.3) rotate(-30)">6-7</text>
<text transform="translate(591.4 487.3) rotate(-30)">7-8</text>
<text transform="translate(653.8 487.3) rotate(-30)">8-9</text>
<text transform="translate(716.1 487.3) rotate(-30)">&gt;9</text>
<text transform="translate(779.0 487.3) rotate(-30)">Normal</text>
<text transform="translate(841.3 487.3) rotate(-30)">1-2</text>
<text transform="translate(903.7 487.3) rotate(-30)">2-3</text>
<text transform="translate(966.1 487.3) rotate(-30)">3-4</text>
<text transform="translate(1028.4 487.3) rotate(-30)">4-5</text>
<text transform="translate(1090.8 487.3) rotate(-30)">5-6</text>
<text transform="translate(1153.2 487.3) rotate(-30)">6-7</text>
<text transform="translate(1215.5 487.3) rotate(-30)">7-8</text>
<text transform="translate(1277.9 487.3) rotate(-30)">8-9</text>
<text transform="translate(1340.3 487.3) rotate(-30)">&gt;9</text>
</g>
<text x="731.6" y="566.5" font-size="38.8px" text-anchor="middle" fill="#000">Wind Speed (m/s)</text>
<text transform="translate(42 231) rotate(-90)" font-size="38.7px" text-anchor="middle" fill="#000">Accuracy</text>
<text x="722.6" y="54.3" font-size="31.3px" text-anchor="end" fill="#181F8A">Rain</text>
<text x="1347.8" y="54.4" font-size="32.2px" text-anchor="end" fill="#5B1282">Graupel</text>
<text x="727.6" y="268.9" font-size="31.2px" text-anchor="end" fill="#A07C22">Snow</text>
</svg>
</body></html>
